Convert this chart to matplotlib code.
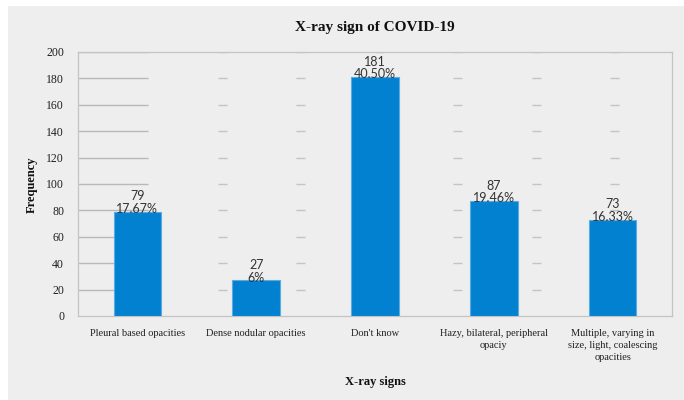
import matplotlib
matplotlib.use("Agg")
import matplotlib.pyplot as plt
from matplotlib.patches import Rectangle

categories = [
    "Pleural based opacities",
    "Dense nodular opacities",
    "Don't know",
    "Hazy, bilateral, peripheral\nopaciy",
    "Multiple, varying in\nsize, light, coalescing\nopacities",
]
frequencies = [79, 27, 181, 87, 73]
percent_labels = ["17.67%", "6%", "40.50%", "19.46%", "16.33%"]
y_ticks = [0, 20, 40, 60, 80, 100, 120, 140, 160, 180, 200]

BG = "#eeeeee"
BAR = "#0281d1"
BAR_EDGE = "#5aaae3"
SERIF = "Liberation Serif"
SANS = "Lato"

fig = plt.figure(figsize=(6.84, 4.0), dpi=100)
fig.patch.set_facecolor("white")
# grey chart background with a thin white margin on the left and top
fig.patches.append(Rectangle((8 / 684, 0), 1, 1 - 6 / 400, transform=fig.transFigure,
                             facecolor=BG, edgecolor="none", zorder=-10))

ax = fig.add_axes([78 / 684, 1 - 316 / 400, 594 / 684, 264 / 400])
ax.set_facecolor(BG)

x = list(range(len(categories)))
ax.bar(x, frequencies, width=0.40, color=BAR, edgecolor=BAR_EDGE, linewidth=0.8, zorder=3)

ax.set_xlim(-0.5, len(categories) - 0.5)
ax.set_ylim(0, 200)
ax.set_yticks(y_ticks)
ax.set_xticks(x)
ax.set_xticklabels(categories, fontfamily=SERIF, fontsize=7.5, color="#202020",
                   linespacing=1.45)
ax.tick_params(axis="x", length=0, pad=9)
ax.tick_params(axis="y", length=0, pad=10)
for lab in ax.get_yticklabels():
    lab.set_fontfamily(SERIF)
    lab.set_fontsize(8.5)
    lab.set_color("#202020")

for s in ax.spines.values():
    s.set_color("#c4c4c4")
    s.set_linewidth(0.9)

# broken horizontal grid lines: a solid lead-in plus short dashes
seg_half = 4.5 / 594
dash_centers = [(222 + 78.5 * k - 78) / 594 for k in range(6)]
ytr = ax.get_yaxis_transform()
for yv in y_ticks[1:]:
    ax.plot([0, 70 / 594], [yv, yv], transform=ytr, color="#b8b8b8", linewidth=1.0,
            zorder=1, solid_capstyle="butt")
    for c in dash_centers:
        ax.plot([c - seg_half, c + seg_half], [yv, yv], transform=ytr, color="#c4c4c4",
                linewidth=1.0, zorder=1, solid_capstyle="butt")

# count and share above each bar
for xi, f, p in zip(x, frequencies, percent_labels):
    ax.text(xi, f - 1.0, p, ha="center", va="baseline", fontfamily=SANS,
            fontsize=9, color="#333333", zorder=4)
    ax.text(xi, f + 8.5, str(f), ha="center", va="baseline", fontfamily=SANS,
            fontsize=9, color="#333333", zorder=4)

fig.text(375 / 684, 1 - 27 / 400, "X-ray sign of COVID-19", ha="center", va="center",
         fontfamily=SERIF, fontweight="bold", fontsize=11, color="#111111")
fig.text(375 / 684, 1 - 382 / 400, "X-ray signs", ha="center", va="center",
         fontfamily=SERIF, fontweight="bold", fontsize=9, color="#111111")
fig.text(32 / 684, 1 - 185 / 400, "Frequency", ha="center", va="center", rotation=90,
         fontfamily=SERIF, fontweight="bold", fontsize=9, color="#111111")

fig.savefig("out.png", dpi=100, facecolor=fig.get_facecolor())
